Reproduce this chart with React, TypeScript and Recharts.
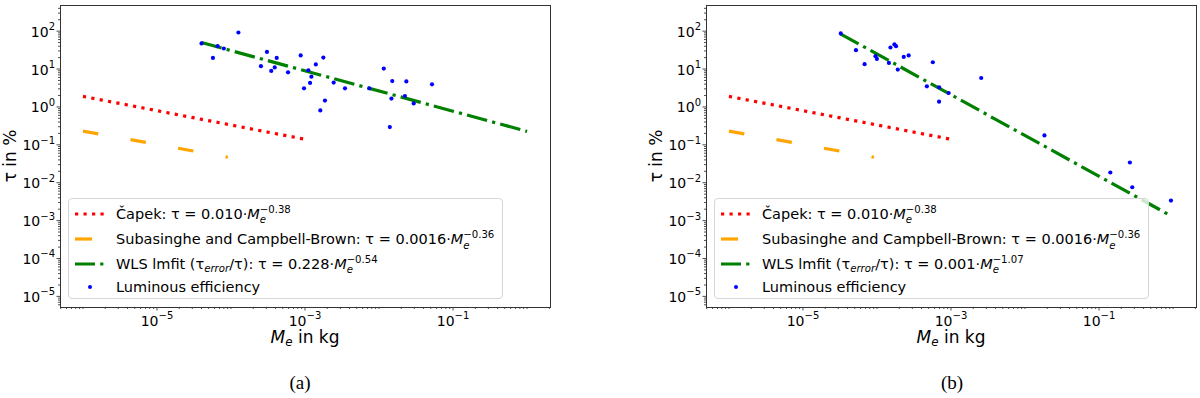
import React from 'react';
import { ComposedChart, Line, Scatter, XAxis, YAxis } from 'recharts';

// power-law lines, endpoints
const capekLine = [
  { x: 1e-6, y: 1.9 },
  { x: 1e-3, y: 0.14 },
];
const subasingheLine = [
  { x: 1e-6, y: 0.23 },
  { x: 9.1e-5, y: 0.047 },
];
const wlsLineA = [
  { x: 4e-5, y: 50 },
  { x: 1.0, y: 0.226 },
];
const wlsLineB = [
  { x: 3.2e-5, y: 85 },
  { x: 0.96, y: 0.0013 },
];

// luminous efficiency points, panel (a)
const lumMassA = [4.0e-5, 1.26e-4, 5.7e-5, 6.6e-5, 8.0e-5, 3.06e-4, 4.15e-4, 2.54e-4, 3.9e-4, 3.5e-4, 5.9e-4, 8.75e-4, 1.77e-3, 1.4e-3, 1.11e-3, 1.22e-3, 1.17e-3, 9.7e-4, 1.86e-3, 1.61e-3, 2.44e-3, 3.47e-3, 7.4e-3, 0.0116, 0.0151, 0.0234, 0.0147, 0.0224, 0.0294, 0.052, 0.014];
const lumTauA = [47.3, 92, 19.7, 40, 34.8, 28.3, 19.7, 11.9, 11, 8.9, 8.2, 22.8, 20.1, 13.2, 9.3, 6.3, 4.3, 3.1, 1.47, 0.81, 4.4, 3.1, 3.1, 10.3, 4.8, 4.7, 1.66, 1.94, 1.24, 3.96, 0.294];

// luminous efficiency points, panel (b)
const lumMassB = [3.24e-5, 5.2e-5, 6.8e-5, 9.55e-5, 9.97e-5, 1.52e-4, 1.72e-4, 1.81e-4, 1.45e-4, 1.91e-4, 2.3e-4, 2.68e-4, 5.68e-4, 4.72e-4, 6.9e-4, 9.3e-4, 6.9e-4, 2.56e-3, 0.0183, 0.142, 0.261, 0.281, 0.937];
const lumTauB = [87, 31.4, 13.4, 21.8, 18.5, 37, 44.5, 40, 14.5, 9.7, 20.9, 22.8, 15.1, 3.5, 3.3, 2.33, 1.38, 5.8, 0.177, 0.0186, 0.0342, 0.0076, 0.00338];

const xMajorTicks = [1e-5, 1e-3, 1e-1];
const yMajorTicks = [1e-5, 1e-4, 1e-3, 1e-2, 1e-1, 1, 10, 100];

const X_DOMAIN = [10 ** -6.31, 10 ** 0.31];
const Y_DOMAIN = [10 ** -5.28, 10 ** 2.69];

const PLOT_TOP = 5;
const PLOT_BOTTOM = 307;
const PLOT_W = 490;
const FONT = '"DejaVu Sans", sans-serif';

const RED = '#ff0000';
const ORANGE = '#ffa500';
const GREEN = '#008000';
const BLUE = '#0000ff';

function minorTicks(lo: number, hi: number, domain: number[]) {
  const out: number[] = [];
  for (let e = lo; e <= hi; e++) {
    for (let m = 1; m < 10; m++) {
      const v = m * 10 ** e;
      if (v >= domain[0] && v <= domain[1]) out.push(v);
    }
  }
  return out;
}

const xTicks = minorTicks(-7, 0, X_DOMAIN);
const yTicks = minorTicks(-6, 2, Y_DOMAIN);

const isMajor = (v: number, majors: number[]) =>
  majors.some((t) => Math.abs(Math.log10(v) - Math.log10(t)) < 1e-6);

const expLabel = (v: number) => {
  const e = Math.round(Math.log10(v));
  return e < 0 ? '\u2212' + Math.abs(e) : String(e);
};

const XTick = (props: any) => {
  const { x, payload } = props;
  const major = isMajor(payload.value, xMajorTicks);
  return (
    <g>
      <line x1={x} x2={x} y1={PLOT_BOTTOM} y2={PLOT_BOTTOM + (major ? 3.5 : 2)} stroke="#222" strokeWidth={0.8} />
      {major && (
        <text x={x} y={PLOT_BOTTOM + 18.5} textAnchor="middle" fontFamily={FONT} fontSize={14} fill="#000">
          10<tspan dy={-6.5} fontSize={10}>{expLabel(payload.value)}</tspan>
        </text>
      )}
    </g>
  );
};

const makeYTick = (plotLeft: number) => (props: any) => {
  const { y, payload } = props;
  const major = isMajor(payload.value, yMajorTicks);
  return (
    <g>
      <line x1={plotLeft} x2={plotLeft - (major ? 3.5 : 2)} y1={y} y2={y} stroke="#222" strokeWidth={0.8} />
      {major && (
        <text x={plotLeft - 5} y={y + 5.5} textAnchor="end" fontFamily={FONT} fontSize={14} fill="#000">
          10<tspan dy={-6.5} fontSize={10}>{expLabel(payload.value)}</tspan>
        </text>
      )}
    </g>
  );
};

const Me = ({ exp }: { exp: string }) => (
  <>
    <i>M</i>
    <span
      style={{
        display: 'inline-flex',
        flexDirection: 'column',
        fontSize: '0.7em',
        lineHeight: 1.05,
        verticalAlign: '6px',
      }}
    >
      <span>{exp}</span>
      <i>e</i>
    </span>
  </>
);

const LegendHandle = ({ kind }: { kind: string }) => (
  <svg width={34} height={12} style={{ position: 'absolute', left: 5, top: -6 }}>
    {kind === 'red' && (
      <line x1={1} x2={31} y1={6} y2={6} stroke={RED} strokeWidth={3.2} strokeDasharray="3.2 5.3" />
    )}
    {kind === 'orange' && <line x1={1} x2={18} y1={6} y2={6} stroke={ORANGE} strokeWidth={3.2} />}
    {kind === 'green' && (
      <line x1={1} x2={31} y1={6} y2={6} stroke={GREEN} strokeWidth={3.2} strokeDasharray="20 5.2 3.2 5.2" />
    )}
    {kind === 'blue' && <circle cx={16} cy={6} r={2} fill={BLUE} />}
  </svg>
);

const LegendBox = ({ left, wlsCoef, wlsExp }: { left: number; wlsCoef: string; wlsExp: string }) => {
  const rows = [
    { kind: 'red', top: 14.5, text: <>Čapek: τ = 0.010·<Me exp={'\u22120.38'} /></> },
    { kind: 'orange', top: 40, text: <>Subasinghe and Campbell-Brown: τ = 0.0016·<Me exp={'\u22120.36'} /></> },
    {
      kind: 'green',
      top: 64.5,
      text: (
        <>
          WLS lmfit (τ
          <i style={{ fontSize: '0.7em', verticalAlign: '-3px' }}>error</i>/τ): τ = {wlsCoef}·<Me exp={wlsExp} />
        </>
      ),
    },
    { kind: 'blue', top: 88, text: <>Luminous efficiency</> },
  ];
  return (
    <div
      style={{
        position: 'absolute',
        left,
        top: 198,
        width: 435,
        height: 101,
        boxSizing: 'border-box',
        border: '1px solid #d6d6d6',
        borderRadius: 4,
        background: 'rgba(255,255,255,0.8)',
        fontFamily: FONT,
        fontSize: 14.5,
        color: '#000',
      }}
    >
      {rows.map((r) => (
        <div key={r.kind} style={{ position: 'absolute', left: 0, top: r.top, width: '100%' }}>
          <LegendHandle kind={r.kind} />
          <div style={{ position: 'absolute', left: 47, top: -9, whiteSpace: 'nowrap', lineHeight: '18px' }}>{r.text}</div>
        </div>
      ))}
    </div>
  );
};

const Panel = ({
  left,
  plotLeft,
  wls,
  mass,
  tau,
  wlsCoef,
  wlsExp,
  caption,
  captionX,
}: {
  left: number;
  plotLeft: number;
  wls: { x: number; y: number }[];
  mass: number[];
  tau: number[];
  wlsCoef: string;
  wlsExp: string;
  caption: string;
  captionX: number;
}) => {
  const points = mass.map((m, i) => ({ x: m, y: tau[i] }));
  const width = 600;
  const YTick = makeYTick(plotLeft);
  return (
    <div style={{ position: 'absolute', left, top: 0, width, height: 398 }}>
      <ComposedChart
        width={width}
        height={398}
        margin={{ top: PLOT_TOP, left: plotLeft - 1, right: width - plotLeft - PLOT_W, bottom: 398 - PLOT_BOTTOM - 1 }}
      >
        <XAxis
          dataKey="x"
          type="number"
          scale="log"
          domain={X_DOMAIN}
          allowDataOverflow
          ticks={xTicks}
          interval={0}
          tick={<XTick />}
          tickLine={false}
          axisLine={false}
          height={1}
        />
        <YAxis
          type="number"
          scale="log"
          domain={Y_DOMAIN}
          allowDataOverflow
          ticks={yTicks}
          interval={0}
          tick={<YTick />}
          tickLine={false}
          axisLine={false}
          width={1}
        />
        <Line data={capekLine} dataKey="y" stroke={RED} strokeWidth={3.2} strokeDasharray="3.2 5.3" dot={false} isAnimationActive={false} />
        <Line data={subasingheLine} dataKey="y" stroke={ORANGE} strokeWidth={3.2} strokeDasharray="15.6 32.7" dot={false} isAnimationActive={false} />
        <Line data={wls} dataKey="y" stroke={GREEN} strokeWidth={3.2} strokeDasharray="20.8 5.2 3.2 5.2" dot={false} isAnimationActive={false} />
        <Scatter data={points} dataKey="y" fill={BLUE} shape={(p: any) => <circle cx={p.cx} cy={p.cy} r={2.1} fill={BLUE} />} isAnimationActive={false} />
      </ComposedChart>
      <div
        style={{
          position: 'absolute',
          left: plotLeft,
          top: PLOT_TOP,
          width: PLOT_W + 1,
          height: PLOT_BOTTOM - PLOT_TOP + 1,
          boxSizing: 'border-box',
          border: '1px solid #333',
          pointerEvents: 'none',
        }}
      />
      <LegendBox left={plotLeft + 8} wlsCoef={wlsCoef} wlsExp={wlsExp} />
      <div
        style={{
          position: 'absolute',
          left: plotLeft - 50,
          top: 156,
          transform: 'translate(-50%, -50%) rotate(-90deg)',
          fontFamily: FONT,
          fontSize: 17,
          whiteSpace: 'nowrap',
        }}
      >
        τ in %
      </div>
      <div
        style={{
          position: 'absolute',
          left: plotLeft + PLOT_W / 2,
          top: 338,
          transform: 'translate(-50%, -50%)',
          fontFamily: FONT,
          fontSize: 17,
          whiteSpace: 'nowrap',
        }}
      >
        <i>M</i>
        <i style={{ fontSize: '0.7em', verticalAlign: '-3px' }}>e</i> in kg
      </div>
      <div
        style={{
          position: 'absolute',
          left: captionX - left,
          top: 383,
          transform: 'translate(-50%, -50%)',
          fontFamily: '"Liberation Serif", serif',
          fontSize: 19,
        }}
      >
        {caption}
      </div>
    </div>
  );
};

export default function App() {
  return (
    <div style={{ position: 'absolute', left: 0, top: 0, width: 1200, height: 398, background: '#fff' }}>
      <Panel left={0} plotLeft={60} wls={wlsLineA} mass={lumMassA} tau={lumTauA} wlsCoef="0.228" wlsExp={'\u22120.54'} caption="(a)" captionX={300} />
      <Panel left={600} plotLeft={106} wls={wlsLineB} mass={lumMassB} tau={lumTauB} wlsCoef="0.001" wlsExp={'\u22121.07'} caption="(b)" captionX={952} />
    </div>
  );
}
